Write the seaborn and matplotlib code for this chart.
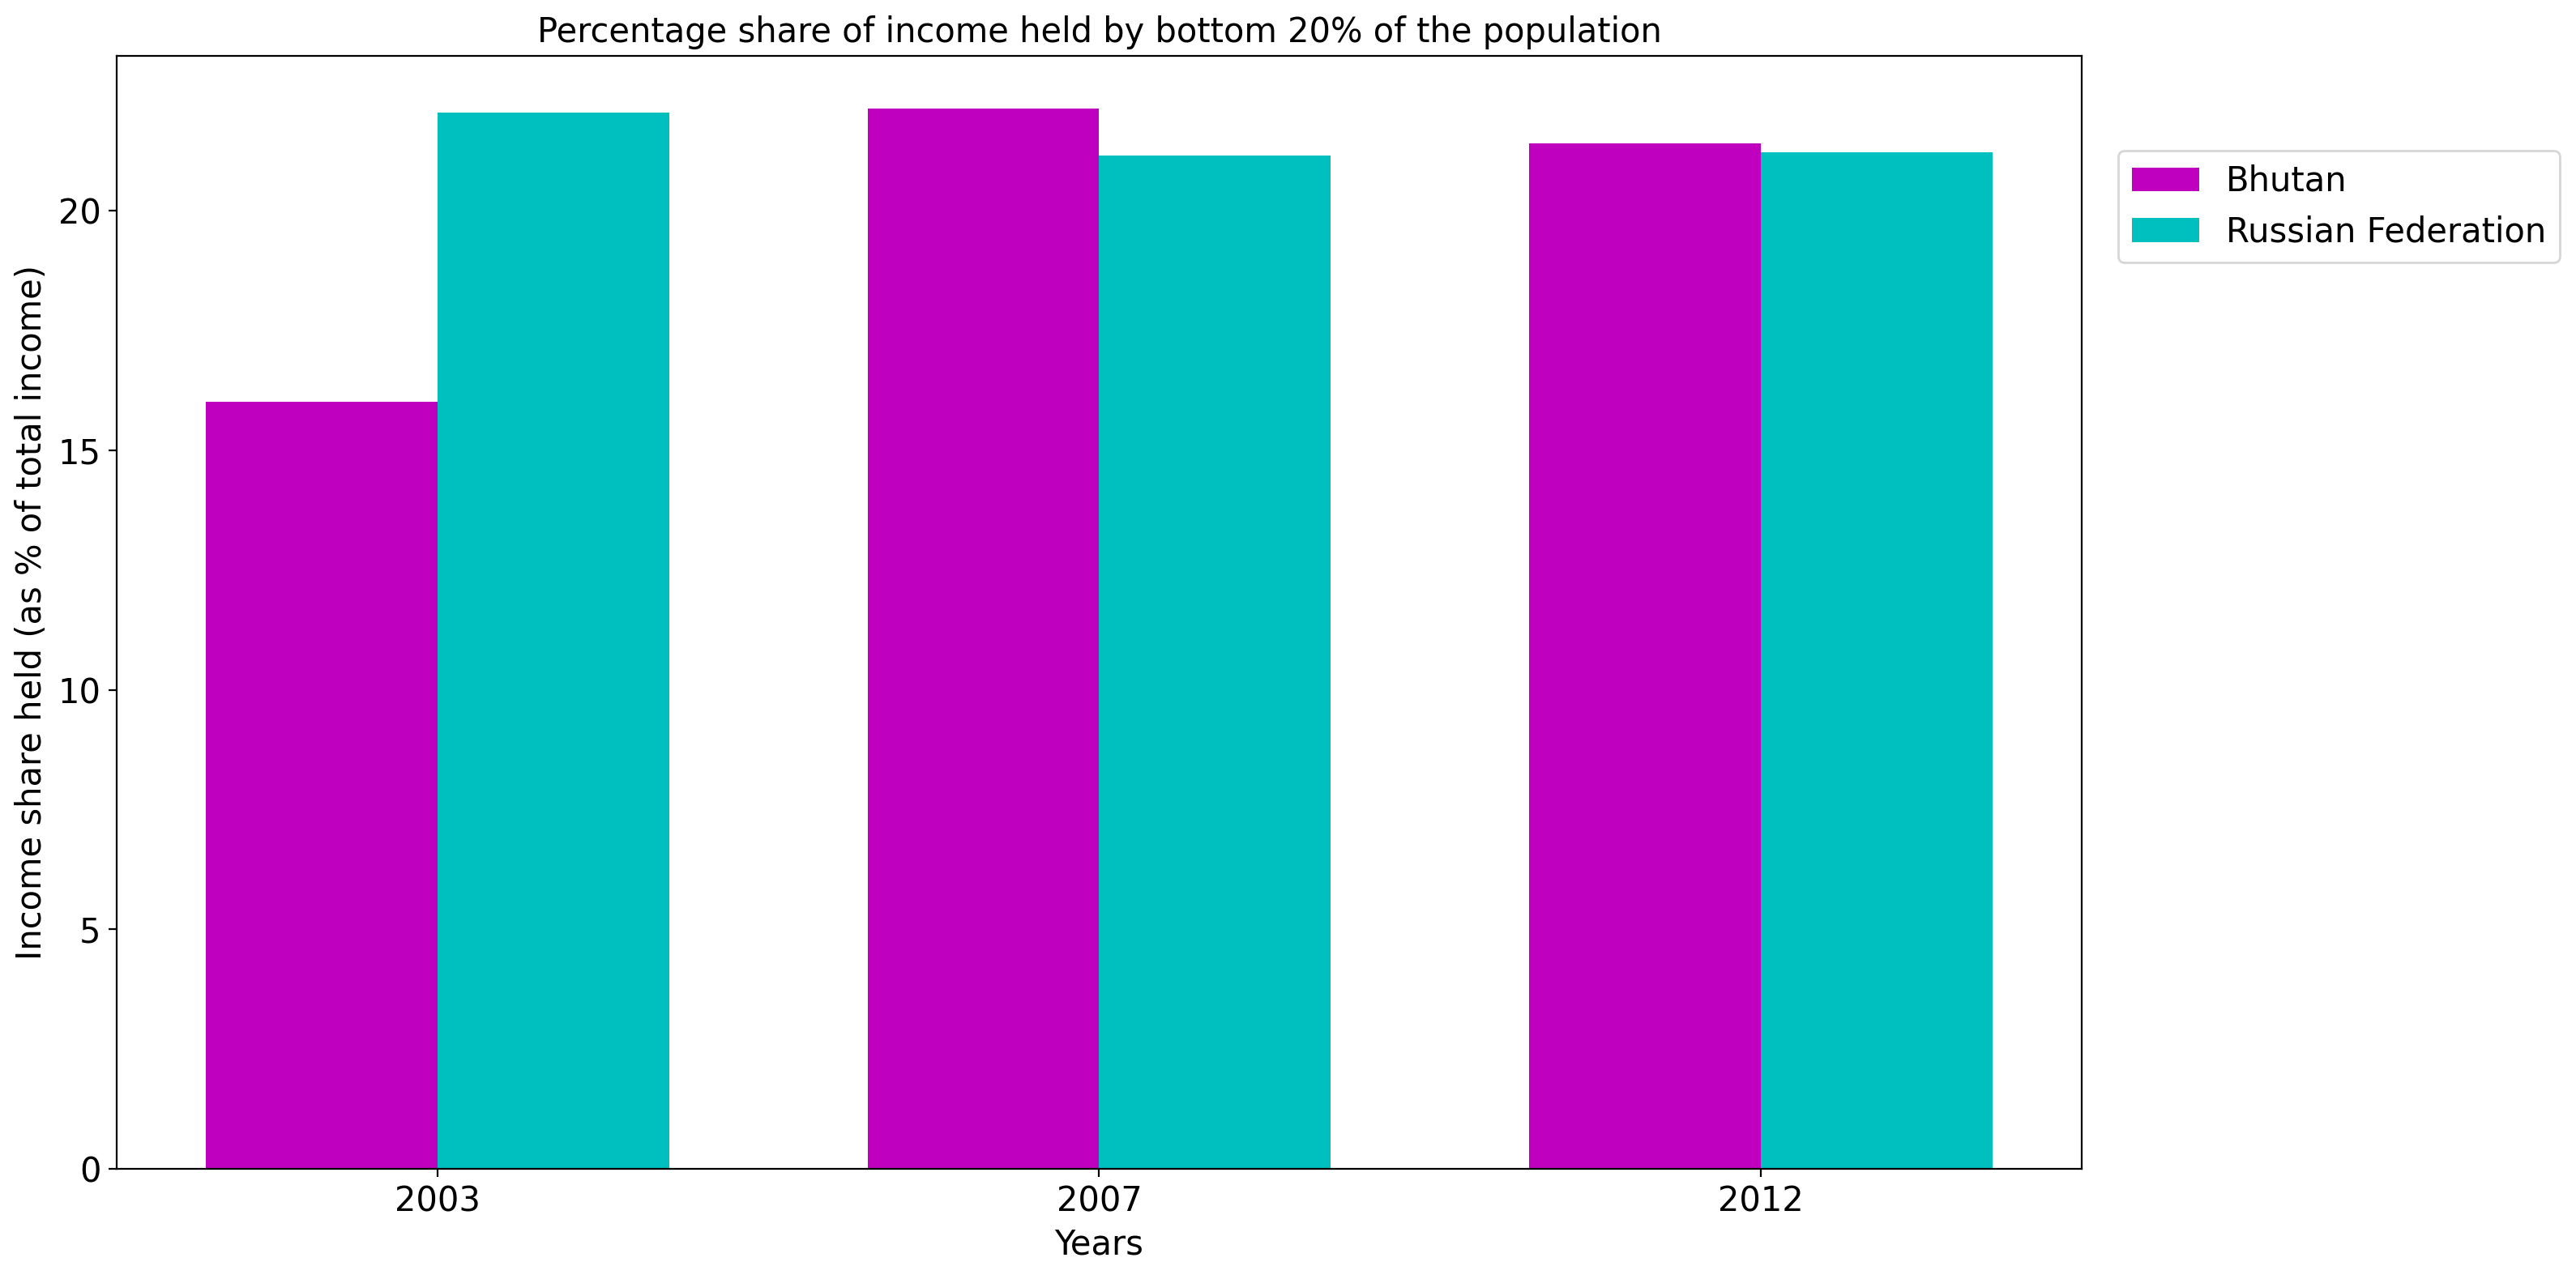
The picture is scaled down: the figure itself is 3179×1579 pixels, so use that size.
import matplotlib
matplotlib.use('Agg')
import matplotlib.pyplot as plt
import seaborn as sns
import pandas as pd

# data
years = ['2003', '2007', '2012']
bhutan = [16.01, 22.13, 21.41]
russia = [22.06, 21.15, 21.22]
countries = ['Bhutan', 'Russian Federation']
colors = ['#bf00bf', '#00bfbf']

df = pd.DataFrame({
    'Years': years * 2,
    'share': bhutan + russia,
    'country': [countries[0]] * len(years) + [countries[1]] * len(years),
})

plt.rcParams['font.family'] = ['DejaVu Sans']

fig = plt.figure(figsize=(15.895, 7.895), dpi=200)
ax = fig.add_axes([0.0453, 0.0861, 0.7628, 0.8702])

sns.barplot(data=df, x='Years', y='share', hue='country', palette=colors,
            width=0.7, saturation=1, errorbar=None, linewidth=0, ax=ax)

# plain matplotlib-like x margins instead of seaborn's fixed limits
ax.set_autoscalex_on(True)
ax.margins(x=0.05)
ax.autoscale_view(scaley=False)

ax.set_title('Percentage share of income held by bottom 20% of the population', fontsize=15)
ax.set_xlabel('Years', fontsize=15)
ax.set_ylabel('Income share held (as % of total income)', fontsize=15)
ax.tick_params(labelsize=15)
ax.legend(loc='upper left', bbox_to_anchor=(1.01, 0.93), fontsize=15)

fig.savefig('out.png', dpi=200)
